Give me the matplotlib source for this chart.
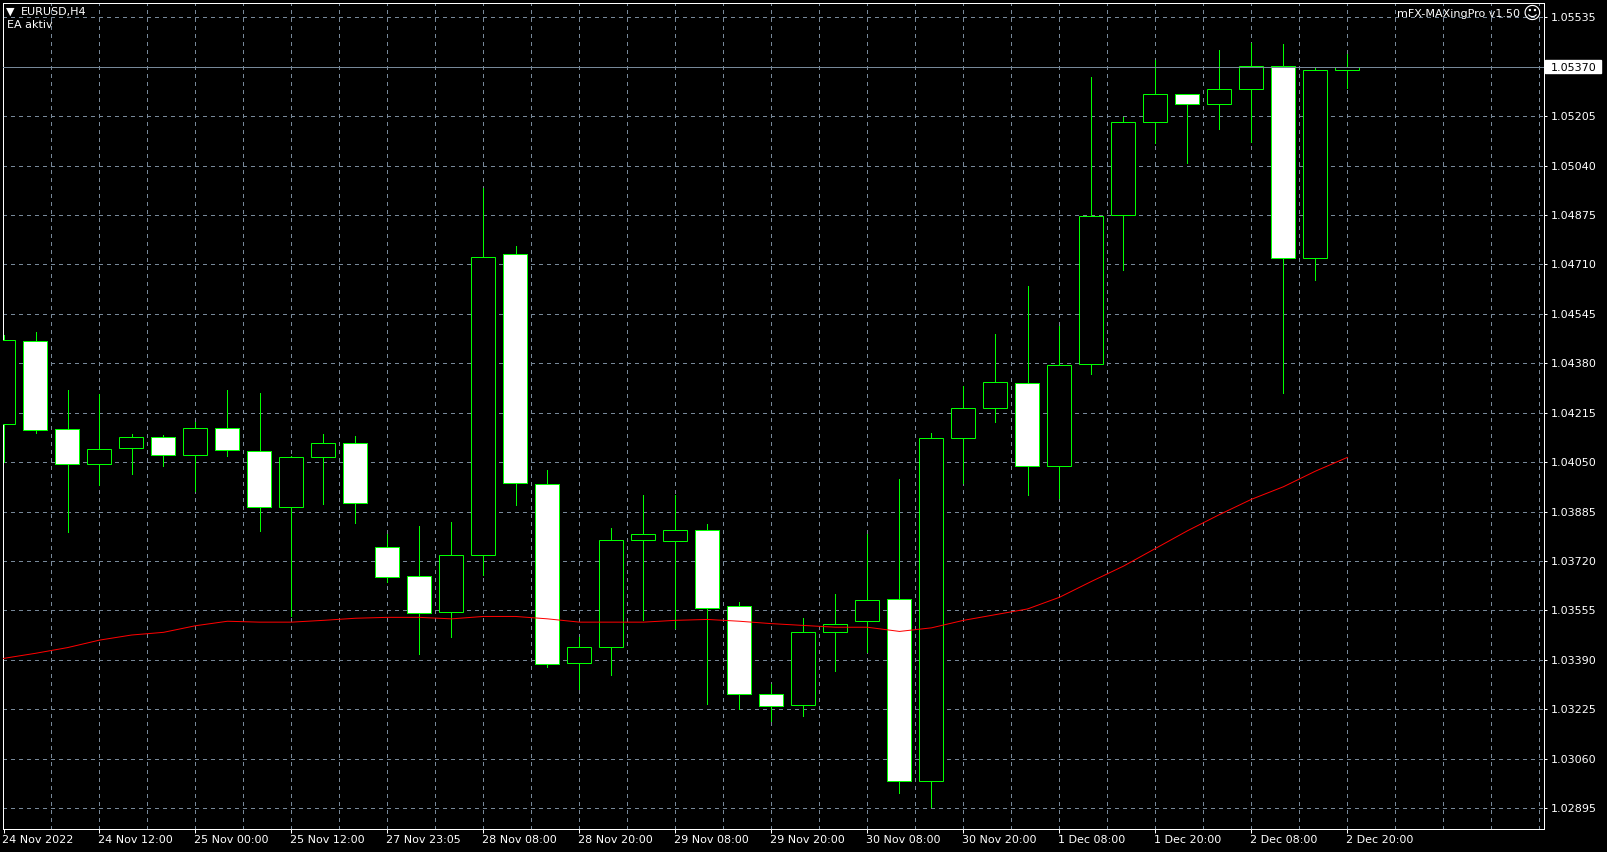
import matplotlib
matplotlib.use("Agg")
import matplotlib.pyplot as plt
from matplotlib.patches import Rectangle
from matplotlib.transforms import ScaledTranslation

# H4 candles
opens = [1.04176, 1.04453, 1.04160, 1.04043, 1.04096, 1.04133, 1.04073, 1.04163, 1.04086, 1.03899, 1.04066,
         1.04113, 1.03766, 1.03669, 1.03549, 1.03739, 1.04744, 1.03976, 1.03379, 1.03432, 1.03789, 1.03786,
         1.03822, 1.03569, 1.03275, 1.03238, 1.03482, 1.03519, 1.03592, 1.02985, 1.04130, 1.04230, 1.04313,
         1.04036, 1.04377, 1.04874, 1.05184, 1.05278, 1.05244, 1.05294, 1.05371, 1.04730, 1.05358]
highs = [1.04474, 1.04483, 1.04291, 1.04277, 1.04144, 1.04141, 1.04184, 1.04291, 1.04281, 1.04070, 1.04144,
         1.04137, 1.03810, 1.03837, 1.03850, 1.04965, 1.04771, 1.04024, 1.03465, 1.03830, 1.03940, 1.03940,
         1.03844, 1.03583, 1.03309, 1.03529, 1.03609, 1.03810, 1.03994, 1.04146, 1.04303, 1.04478, 1.04638,
         1.04504, 1.05335, 1.05201, 1.05391, 1.05278, 1.05426, 1.05449, 1.05446, 1.05364, 1.05412]
lows = [1.04049, 1.04148, 1.03818, 1.03975, 1.04011, 1.04038, 1.03955, 1.04072, 1.03821, 1.03537, 1.03911,
        1.03848, 1.03651, 1.03411, 1.03467, 1.03674, 1.03908, 1.03367, 1.03294, 1.03341, 1.03524, 1.03495,
        1.03244, 1.03225, 1.03187, 1.03204, 1.03354, 1.03415, 1.02947, 1.02900, 1.03979, 1.04185, 1.03941,
        1.03931, 1.04345, 1.04692, 1.05116, 1.05049, 1.05163, 1.05119, 1.04282, 1.04659, 1.05298]
closes = [1.04457, 1.04156, 1.04045, 1.04093, 1.04133, 1.04073, 1.04163, 1.04090, 1.03899, 1.04066, 1.04113,
          1.03913, 1.03668, 1.03546, 1.03739, 1.04734, 1.03979, 1.03375, 1.03432, 1.03789, 1.03809, 1.03822,
          1.03562, 1.03275, 1.03235, 1.03482, 1.03509, 1.03589, 1.02985, 1.04130, 1.04230, 1.04316, 1.04036,
          1.04373, 1.04871, 1.05184, 1.05278, 1.05244, 1.05294, 1.05371, 1.04730, 1.05358, 1.05370]
ma_values = [1.03395, 1.03412, 1.03431, 1.03456, 1.03473, 1.03482, 1.03504, 1.03519, 1.03516, 1.03516, 1.03522,
             1.03529, 1.03532, 1.03532, 1.03527, 1.03535, 1.03535, 1.03527, 1.03516, 1.03516, 1.03516, 1.03522,
             1.03525, 1.03519, 1.03511, 1.03505, 1.03499, 1.03499, 1.03485, 1.03497, 1.03522, 1.03541, 1.03560,
             1.03599, 1.03652, 1.03703, 1.03762, 1.03821, 1.03875, 1.03926, 1.03968, 1.04020, 1.04066]

price_ticks = [1.05535, 1.05370, 1.05205, 1.05040, 1.04875, 1.04710, 1.04545, 1.04380, 1.04215,
               1.04050, 1.03885, 1.03720, 1.03555, 1.03390, 1.03225, 1.03060, 1.02895]
last_price = 1.05370
time_labels = ["24 Nov 2022", "24 Nov 12:00", "25 Nov 00:00", "25 Nov 12:00", "27 Nov 23:05",
               "28 Nov 08:00", "28 Nov 20:00", "29 Nov 08:00", "29 Nov 20:00", "30 Nov 08:00",
               "30 Nov 20:00", "1 Dec 08:00", "1 Dec 20:00", "2 Dec 08:00", "2 Dec 20:00"]

W, H = 1607, 852
PX = 0.72  # one pixel in points at dpi 100
GREEN = "#00ff00"
GRID = "#778899"

plt.rcParams["font.family"] = "DejaVu Sans"
plt.rcParams["font.size"] = 8

fig = plt.figure(figsize=(W / 100, H / 100), dpi=100, facecolor="black")
ax = fig.add_axes([2.5 / W, 1 - 828.5 / H, 1541 / W, 826 / H], facecolor="black")

xs = list(range(len(opens)))

# grid
for g in range(1, 33):
    ax.axvline(g * 1.5, color=GRID, lw=PX, ls=(0, (3, 5)), antialiased=False, zorder=1)
for p in price_ticks:
    ax.axhline(p, color=GRID, lw=PX, ls=(0, (3, 5)), antialiased=False, zorder=1)

# candles, black when it closed up, white when it closed down
bottoms = [min(o, c) for o, c in zip(opens, closes)]
sizes = [abs(c - o) for o, c in zip(opens, closes)]
fills = ["black" if c >= o else "white" for o, c in zip(opens, closes)]
ax.vlines(xs, lows, highs, color=GREEN, lw=PX, antialiased=False, zorder=2)
ax.bar(xs, sizes, bottom=bottoms, width=0.75, color=fills, edgecolor=GREEN, linewidth=PX, zorder=3)

ax.plot(xs, ma_values, color="#ff0000", lw=PX, zorder=4)
ax.axhline(last_price, color=GRID, lw=PX, antialiased=False, zorder=5)

ax.set_xlim(-0.03125, 48.125)
ax.set_ylim(1.028273, 1.05584)

for s in ax.spines.values():
    s.set_color("white")
    s.set_linewidth(PX)

ax.set_xticks(xs[::3])
ax.set_xticklabels(time_labels, ha="left", color="white")
ax.tick_params(axis="x", colors="white", length=2.9, width=PX, pad=1.8)
ax.yaxis.tick_right()
ax.set_yticks(price_ticks)
ax.set_yticklabels(["%.5f" % p for p in price_ticks], color="white")
ax.tick_params(axis="y", colors="white", length=2.2, width=PX, pad=3)

# nudge the time labels a little to the left of their ticks
nudge = ScaledTranslation(-1.5 / 100, 0, fig.dpi_scale_trans)
for lab in ax.get_xticklabels():
    lab.set_transform(lab.get_transform() + nudge)

# current price box on the scale
ax.add_patch(Rectangle((1.001, last_price - 0.00022), 56 / 1541, 0.00044, transform=ax.get_yaxis_transform(),
                       color="white", clip_on=False, zorder=1))
for lab, p in zip(ax.get_yticklabels(), price_ticks):
    if p == last_price:
        lab.set_color("black")

# chart captions
fig.text(5.5 / W, 1 - 12 / H, "▼", color="white", fontsize=8, va="center")
fig.text(21 / W, 1 - 12.5 / H, "EURUSD,H4", color="white", va="center")
fig.text(7 / W, 1 - 25.5 / H, "EA aktiv", color="white", va="center")
fig.text(1520 / W, 1 - 14 / H, "mFX-MAXingPro v1.50", color="white", va="center", ha="right")
fig.text(1531.5 / W, 1 - 14 / H, "☺", color="white", fontsize=13, va="center", ha="center")

fig.savefig("out.png", dpi=100, facecolor="black")
